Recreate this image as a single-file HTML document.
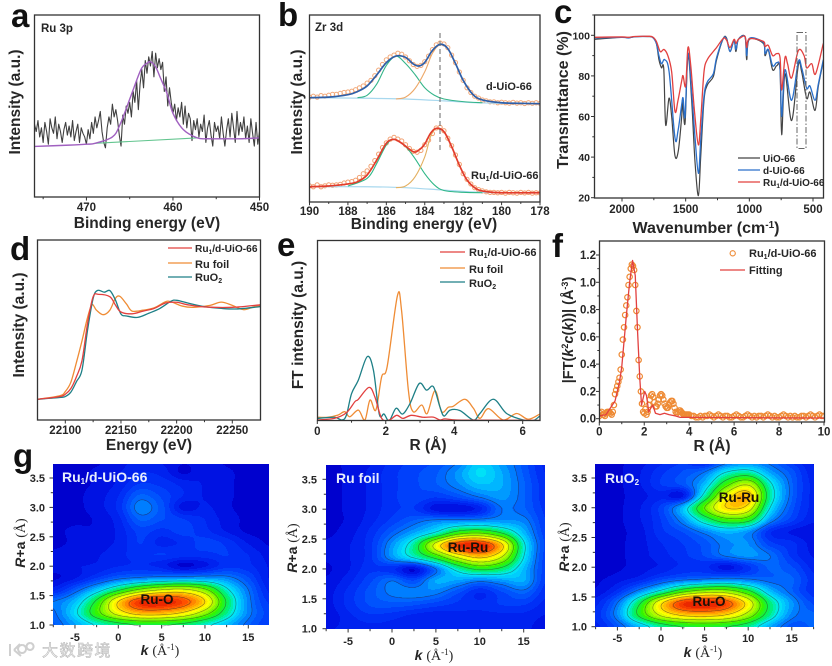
<!DOCTYPE html>
<html lang="en">
<head>
<meta charset="utf-8">
<title>XPS, FTIR, XAS and EXAFS panels</title>
<style>
html,body{margin:0;padding:0;background:#fff;width:832px;height:666px;overflow:hidden}
svg{display:block;position:absolute;left:0;top:0}
text{font-family:"Liberation Sans","Noto Sans CJK SC",sans-serif;font-weight:bold;fill:#262626}
.letter{font-size:33px;fill:#111}
.title{font-size:15.5px;text-anchor:middle}
.tick{font-size:11.5px}
.cy{font-size:10.5px}
.leg{font-size:11px}
.leg-sm{font-size:10px}
.note{font-size:11.5px}
.frame{fill:none;stroke:#333;stroke-width:1.3}
.gt{font-size:11px}
.glab{font-size:14px;fill:#e8eefc}
.peak{font-size:13.5px;fill:#1b1208;text-anchor:middle}
.serif{font-family:"Liberation Serif",serif;font-weight:normal}
.wm{font-size:16px;letter-spacing:1.5px;fill:#f4f4f4;stroke:#b9b9b9;stroke-width:.6;font-weight:normal}
</style>
</head>
<body>
<svg id="fig" width="832" height="666" viewBox="0 0 832 666" xmlns="http://www.w3.org/2000/svg">
<defs>
<clipPath id="clip-a"><rect x="34.5" y="15" width="225" height="182"/></clipPath>
<clipPath id="clip-b"><rect x="309.5" y="15" width="230.5" height="187"/></clipPath>
<clipPath id="clip-c"><rect x="594.5" y="15" width="229" height="183"/></clipPath>
<clipPath id="clip-d"><rect x="37.5" y="240" width="223" height="180"/></clipPath>
<clipPath id="clip-e"><rect x="317.5" y="240.5" width="222.5" height="180"/></clipPath>
<clipPath id="clip-f"><rect x="599.5" y="241" width="225" height="181"/></clipPath>
</defs>

<g id="panel-a">
<text class="letter" x="11" y="27">a</text>
<g id="a-marks" clip-path="url(#clip-a)"></g>
<rect class="frame" x="34.5" y="15" width="225" height="182"/>
<g id="a-axis"></g>
<text class="note" x="41" y="32">Ru 3p</text>
<text class="title" x="147" y="228">Binding energy (eV)</text>
<text class="title" transform="translate(20,102) rotate(-90)">Intensity (a.u.)</text>
</g>

<g id="panel-b">
<text class="letter" x="278" y="26">b</text>
<g id="b-marks" clip-path="url(#clip-b)"></g>
<line x1="440" y1="33" x2="440" y2="152" stroke="#666" stroke-width="1" stroke-dasharray="5 3"/>
<rect class="frame" x="309.5" y="15" width="230.5" height="187"/>
<g id="b-axis"></g>
<text class="note" x="315" y="31">Zr 3d</text>
<text class="leg" x="486" y="90">d-UiO-66</text>
<text class="leg" x="471" y="179">Ru<tspan font-size="7" dy="2">1</tspan><tspan dy="-2">/d-UiO-66</tspan></text>
<text class="title" x="424" y="229">Binding energy (eV)</text>
<text class="title" transform="translate(302,102) rotate(-90)">Intensity (a.u.)</text>
</g>

<g id="panel-c">
<text class="letter" x="554" y="23">c</text>
<g id="c-marks" clip-path="url(#clip-c)"></g>
<rect x="797" y="32.5" width="9" height="116" fill="none" stroke="#666" stroke-width="1" stroke-dasharray="6 2 1.5 2"/>
<rect class="frame" x="594.5" y="15" width="229" height="183"/>
<g id="c-axis"></g>
<g>
<line x1="738" y1="158" x2="760" y2="158" stroke="#444" stroke-width="1.3"/>
<text class="leg-sm" x="763" y="162">UiO-66</text>
<line x1="738" y1="170" x2="760" y2="170" stroke="#2a6fc9" stroke-width="1.3"/>
<text class="leg-sm" x="763" y="174">d-UiO-66</text>
<line x1="738" y1="182" x2="760" y2="182" stroke="#e2403f" stroke-width="1.3"/>
<text class="leg-sm" x="763" y="186">Ru<tspan font-size="6.5" dy="2">1</tspan><tspan dy="-2">/d-UiO-66</tspan></text>
</g>
<text class="title" x="706" y="233" style="font-size:16px">Wavenumber (cm<tspan font-size="10" dy="-5">-1</tspan><tspan dy="5">)</tspan></text>
<text class="title" transform="translate(568,100) rotate(-90)" style="font-size:16px">Transmittance (%)</text>
</g>

<g id="panel-d">
<text class="letter" x="10" y="260">d</text>
<g id="d-marks" clip-path="url(#clip-d)"></g>
<rect class="frame" x="37.5" y="240" width="223" height="180"/>
<g id="d-axis"></g>
<g>
<line x1="168" y1="248" x2="192" y2="248" stroke="#e2403f" stroke-width="1.3"/>
<text class="leg" x="195" y="252" style="font-size:10.2px">Ru<tspan font-size="6.5" dy="2">1</tspan><tspan dy="-2">/d-UiO-66</tspan></text>
<line x1="168" y1="263" x2="192" y2="263" stroke="#ef8c35" stroke-width="1.3"/>
<text class="leg" x="195" y="268">Ru foil</text>
<line x1="168" y1="277" x2="192" y2="277" stroke="#1d7f86" stroke-width="1.3"/>
<text class="leg" x="195" y="281">RuO<tspan font-size="7" dy="2">2</tspan></text>
</g>
<text class="title" x="149" y="450">Energy (eV)</text>
<text class="title" transform="translate(24,325) rotate(-90)">Intensity (a.u.)</text>
</g>

<g id="panel-e">
<text class="letter" x="277" y="256">e</text>
<g id="e-marks" clip-path="url(#clip-e)"></g>
<rect class="frame" x="317.5" y="240.5" width="222.5" height="180"/>
<g id="e-axis"></g>
<g>
<line x1="440" y1="252" x2="465" y2="252" stroke="#e2403f" stroke-width="1.3"/>
<text class="leg" x="469" y="256">Ru<tspan font-size="7" dy="2">1</tspan><tspan dy="-2">/d-UiO-66</tspan></text>
<line x1="440" y1="268" x2="465" y2="268" stroke="#ef8c35" stroke-width="1.3"/>
<text class="leg" x="469" y="273">Ru foil</text>
<line x1="440" y1="282" x2="465" y2="282" stroke="#1d7f86" stroke-width="1.3"/>
<text class="leg" x="469" y="287">RuO<tspan font-size="7" dy="2">2</tspan></text>
</g>
<text class="title" x="428" y="450">R (Å)</text>
<text class="title" transform="translate(303,325) rotate(-90)">FT intensity (a.u.)</text>
</g>

<g id="panel-f">
<text class="letter" x="552" y="257">f</text>
<g id="f-marks" clip-path="url(#clip-f)"></g>
<rect class="frame" x="599.5" y="241" width="225" height="181"/>
<g id="f-axis"></g>
<g>
<circle cx="732.7" cy="253.3" r="2.6" fill="none" stroke="#ee8a34" stroke-width="1.1"/>
<text class="leg" x="749" y="257">Ru<tspan font-size="7" dy="2">1</tspan><tspan dy="-2">/d-UiO-66</tspan></text>
<line x1="720" y1="270" x2="745" y2="270" stroke="#e2403f" stroke-width="1.3"/>
<text class="leg" x="749" y="274">Fitting</text>
</g>
<text class="title" x="712" y="451">R (Å)</text>
<text class="title" transform="translate(573,330) rotate(-90)" style="font-size:14.5px">|FT(<tspan font-style="italic">k</tspan><tspan font-size="9" dy="-5">2</tspan><tspan dy="5" font-style="italic">c</tspan>(<tspan font-style="italic">k</tspan>))| (Å<tspan font-size="9" dy="-5">-3</tspan><tspan dy="5">)</tspan></text>
</g>

<text class="letter" x="13" y="467">g</text>

<g id="panel-g1">
<g id="g1-heat"></g>
<g id="g1-axis"></g>
<text class="glab" x="62" y="482">Ru<tspan font-size="8" dy="2">1</tspan><tspan dy="-2">/d-UiO-66</tspan></text>
<text class="peak" x="157" y="604">Ru-O</text>
<text class="title" x="160" y="655" style="font-size:14px"><tspan font-style="italic">k</tspan> <tspan class="serif">(Å</tspan><tspan font-size="9" dy="-5" class="serif">-1</tspan><tspan dy="5" class="serif">)</tspan></text>
<text class="title" transform="translate(25,543) rotate(-90)" style="font-size:14px"><tspan font-style="italic">R</tspan>+a <tspan class="serif">(Å)</tspan></text>
</g>

<g id="panel-g2">
<g id="g2-heat"></g>
<g id="g2-axis"></g>
<text class="glab" x="336" y="483">Ru foil</text>
<text class="peak" x="468" y="552">Ru-Ru</text>
<text class="title" x="434" y="660" style="font-size:14px"><tspan font-style="italic">k</tspan> <tspan class="serif">(Å</tspan><tspan font-size="9" dy="-5" class="serif">-1</tspan><tspan dy="5" class="serif">)</tspan></text>
<text class="title" transform="translate(297,548) rotate(-90)" style="font-size:14px"><tspan font-style="italic">R</tspan>+a <tspan class="serif">(Å)</tspan></text>
</g>

<g id="panel-g3">
<g id="g3-heat"></g>
<g id="g3-axis"></g>
<text class="glab" x="605" y="483">RuO<tspan font-size="8" dy="2">2</tspan></text>
<text class="peak" x="739" y="502">Ru-Ru</text>
<text class="peak" x="709" y="606">Ru-O</text>
<text class="title" x="703" y="657" style="font-size:14px"><tspan font-style="italic">k</tspan> <tspan class="serif">(Å</tspan><tspan font-size="9" dy="-5" class="serif">-1</tspan><tspan dy="5" class="serif">)</tspan></text>
<text class="title" transform="translate(569,547) rotate(-90)" style="font-size:14px"><tspan font-style="italic">R</tspan>+a <tspan class="serif">(Å)</tspan></text>
</g>

<g>
<path d="M10 644v12M14 650l6-6M14 650l7 6M22 645a4 4 0 1 0 .1 0M30 643a3.5 3.5 0 1 0 .1 0" fill="none" stroke="#cfcfcf" stroke-width="2"/>
<text class="wm" x="42" y="656">大数跨境</text>
</g>
</svg>

<script>
/* ---------- panel a data ---------- */
const aNoiseStart = 476;
const aNoiseStep = 0.2;
const aNoise = [40,36,42,33,38,30,41,36,29,43,38,35,44,32,40,36,30,37,41,34,39,33,42,31,36,40,30,38,35,33,29,
37,32,41,35,44,38,42,47,36,30,27,38,44,40,51,
44,48,42,34,28,45,40,50,46,52,
44,58,52,64,48,62,70,60,
75,68,77,72,80,66,79,71,76,
70,74,58,66,50,60,52,46,
51,42,49,44,52,40,50,38,46,43,
31,42,37,43,33,40,36,45,30,38,42,34,28,41,36,39,32,44,35,28,37,43,33,46,38,30,47,34,41,36,44,32,39,30,43,35,28,41,29,36];
const aFitE = [476,472,470,469,467,466.1,464.9,463.7,463,462.6,462,461.5,460.7,460,458.8,457.2,456,454,452,450];
const aFitV = [27.8,28.5,29,29.5,33,40,55,70,73.5,74.3,71.5,66,57,46,37,32.5,32,32,32,32.5];
const aBaseE = [469,457];
const aBaseV = [29.5,32.5];
const aXTicks = [470,460,450];
const aXMinor = [475,465,455];

/* ---------- panel b data ---------- */
const bScatterStart = 190;
const bScatterStep = 0.2;
const bScatterD = [56,56.5,56,56.8,56.5,57,57.5,57.5,58,58.5,58.8,59.2,60,61,62,63.5,65,67.5,70.5,73.5,76,77.5,78.5,79.5,79,77.5,75.5,73.5,72.5,73,75,78,81.5,84,85,84.5,82.5,78.5,74.5,69.5,65,61,58.5,56.5,55.5,54.5,54,53.5,53.5,53,53.3,53,52.8,53.2,52.8,53,52.6,53,52.7,53,52.7];
const bScatterRu = [8.5,8,9,8,8.5,9,8.8,9,9.3,10,10.5,10.8,11.5,13,15,16.5,19,22,25.5,29,31.5,33.5,34.5,33.5,32.5,30.5,28.5,27,26.5,27.5,30.5,33,36.5,39.5,39.8,38,34,30,25,20,15,12,9.5,7.5,6.5,5.8,5.3,5,5,4.8,5,4.6,5,4.8,4.6,5,4.7,5,4.6,4.8,4.7];
const bFitDE = [190,189,188,187.5,187,186.5,186,185.5,185,184.6,184.3,184,183.6,183.2,182.8,182.4,182,181.5,181,180,179,178];
const bFitDV = [55.7,56,57.3,59,62,67.9,74.5,78,77.3,73.8,72.7,74.6,81,84.3,82,74,65,57.5,54.5,53,52.7,52.5];
const bGreenDE = [187.5,187,186.5,186,185.5,185,184.5,184,183.5,183,182,181];
const bGreenDV = [55.7,57,63,73,78,74,68,61,57,55,53.6,53];
const bOrangeDE = [185.5,185,184.5,184,183.6,183.2,182.8,182.4,182,181.5,181,180];
const bOrangeDV = [55,56,60.7,69.6,79.5,84.3,82,74,65,57.5,54.5,53];
const bBaseDE = [190,187,185,183,181,178];
const bBaseDV = [55.7,55.4,55,54,52.9,52.5];
const bFitRuE = [190,189,188,187.5,187,186.5,186,185.6,185.2,184.6,184.3,184,183.7,183.4,183,182.6,182.2,181.8,181.3,180.8,180,178];
const bFitRuV = [8,8.4,9.5,10.7,14.3,22.3,31.3,33.4,31.3,26.8,27.7,30.9,36.6,39.3,37.5,29.5,19.6,11.6,6.8,5.4,4.8,4.8];
const bGreenRuE = [188,187,186.5,186,185.6,185,184.5,184,183.5,183,182,181];
const bGreenRuV = [8.4,12.5,20.5,30.4,33.4,29.5,23,15,9,6,5,4.8];
const bOrangeRuE = [185.5,185,184.5,184,183.7,183.4,183,182.6,182.2,181.8,181.3,180.8];
const bOrangeRuV = [7.5,8.4,13.4,24,34.8,39.3,37.5,29.5,19.6,11.6,6.8,5.4];
const bBaseRuE = [190,187,185,183,181,178];
const bBaseRuV = [8,8,7.5,6.2,5,4.8];
const bXTicks = [190,188,186,184,182,180,178];
const bXMinor = [189,187,185,183,181,179];

/* ---------- panel c data ---------- */
const cBlackW = [2217,2000,1950,1900,1800,1760,1730,1710,1690,1672,1657,1631,1610,1584,1558,1531,1524,1505,1482,1453,1427,1400,1382,1356,1330,1283,1257,1204,1178,1152,1120,1105,1086,1034,1021,1000,890,877,851,817,785,759,746,720,668,615,589,550,524,484,458,419];
const cBlackV = [98,99,98.7,99.3,99.4,99,96,88,84,83.5,55.8,69,60,40.7,43,60,68,56.6,90,68,38,21,40,68,75.5,79.6,88,98.5,98.5,92,97.5,92,98,99.3,88,98,96,90,92.7,83,85,83,51,81,58,85.4,82,69,72,63,75,87];
const cBlueW = [2217,2000,1950,1900,1800,1760,1730,1710,1690,1665,1630,1584,1560,1531,1520,1505,1482,1453,1427,1400,1382,1356,1330,1283,1257,1204,1178,1152,1120,1105,1086,1034,1021,1000,890,877,851,817,785,759,746,720,668,615,589,550,524,484,458,419];
const cBlueV = [98.7,99,98.7,99.3,99.4,99,96,90,86,88,82,49.5,53,66,69,60,91,72,50,32,48,70,77,81,89,98.5,98,92,97.5,93,98,99.3,90,98.5,96.5,91,93,85,86.5,84,60,83,68,87,84,74,75,68,76,88];
const cRedW = [2217,2000,1950,1900,1800,1760,1730,1700,1670,1640,1610,1584,1560,1530,1520,1500,1482,1460,1430,1400,1380,1356,1330,1283,1257,1204,1178,1152,1120,1105,1086,1034,1021,1000,890,877,851,817,785,759,746,720,700,668,615,570,550,510,480,419];
const cRedV = [99,99.2,99,99.4,99.5,99.2,97,92,93,90,82,62.5,68,78,80,75,94,85,62,46,60,82,88,92,94,98.5,97.5,94,98,96,98,99.5,94,98.3,97,94.5,95,90,91,89,73,89,86,79,92.5,90,84,86,81,96];
const cXTicks = [2000,1500,1000,500];
const cXMinor = [1750,1250,750];
const cYTicks = [20,40,60,80,100];
const cYMinor = [30,50,70,90,110];

/* ---------- panel d data ---------- */
const dRuE = [22075,22095,22100,22105,22110,22115,22120,22125,22130,22140,22145,22150,22160,22170,22180,22190,22200,22210,22225,22250,22275];
const dRuV = [11.5,13,14.3,17.5,24,33,53.7,68.5,69.8,68.5,63.9,60,59,60.5,62,65,65.4,64,62.8,62.6,64];
const dFoilE = [22075,22095,22100,22105,22110,22115,22120,22124,22128,22134,22140,22145,22149,22155,22160,22170,22180,22190,22195,22205,22215,22230,22240,22250,22260,22270,22275];
const dFoilV = [11.5,13.5,15.8,21,32,44,57,64,61,58.5,61,67.6,68.7,64.4,60.5,61,62.4,65.7,65.7,63.3,62.6,63.7,65.5,63.7,61.3,63,63.3];
const dOxE = [22075,22095,22100,22105,22110,22115,22120,22125,22129,22135,22140,22145,22150,22155,22165,22175,22185,22195,22200,22210,22225,22240,22255,22275];
const dOxV = [11.5,12.5,13,15.5,21.3,27.8,50,67.6,72,71,71.9,66.7,58.9,57.8,57,59.3,62,66,66.5,65,63,62,61.7,63];
const dXTicks = [22100,22150,22200,22250];
const dXMinor = [22125,22175,22225];

/* ---------- panel e data ---------- */
const eFoilR = [0,0.3,0.6,0.8,0.95,1.2,1.39,1.54,1.71,1.88,2.04,2.34,2.46,2.66,2.8,3.05,3.21,3.44,3.63,3.83,3.97,4.31,4.56,4.75,5.0,5.43,5.82,6.16,6.5];
const eFoilV = [1.9,1.9,3.1,5,2.2,5.9,0.4,11.5,5.9,24.4,30,69.4,61.5,17,5,8.7,4,16.7,5,7.5,8,11.9,6.9,1.3,6.7,0.4,4,0.8,3.7];
const eOxR = [0,0.5,0.72,0.85,1.0,1.2,1.46,1.64,1.81,1.95,2.1,2.3,2.49,2.71,2.98,3.19,3.39,3.58,3.7,3.88,4.17,4.56,4.75,5.14,5.53,6.02,6.3,6.5];
const eOxV = [1.3,1.9,0.4,3.1,15,22.6,35.6,28,3.7,3.7,0,6.9,3.7,9.6,20.7,17,18.9,7.8,2.6,5.9,5.6,0.4,4,11.9,4,0.4,0,2.6];
const eRuR = [0,0.5,0.85,1.1,1.2,1.51,1.68,1.88,2.1,2.32,2.5,2.75,3.09,3.39,3.58,3.73,4.07,5,6.5];
const eRuV = [0.4,1.3,4.4,10.6,11.9,18.5,13.3,1.3,0.4,3,1.3,3,1.9,2,0.4,1,0.4,0.3,0.2];
const eXTicks = [0,2,4,6];
const eXMinor = [1,3,5];

/* ---------- panel f data ---------- */
const fCircStart = 0;
const fCircStep = 0.05;
const fCircNear = [.02,.04,.05,.03,.03,.02,.04,.05,.05,.05,.04,.03,.05,.10,.18,.21,.24,.27,.30,.36,.47,.58,.67,.76,.83,.89,.98,1.04,1.10,1.13,1.12,1.09,.98,.79,.67,.43,.31,.20,.11,.05,.04,.07,.03,.05,.10,.14,.17,.18,.16,.12,.09,.09,.11,.14,.17,.18,.17,.14,.11,.09,.08,.08,.10,.12,.13,.13,.11,.08,.05,.04,.05,.06,.06,.05,.04,.03,.03,.03,.03,.03,.03];
const fFarStart = 4.1;
const fFarStep = 0.1;
const fCircFar = [.02,.02,.01,.01,.02,.01,.02,.02,.03,.02,.01,.02,.03,.02,.01,.02,.02,.01,.01,.02,.03,.02,.01,.01,.02,.03,.02,.01,.02,.01,.02,.02,.01,.02,.03,.02,.01,.02,.01,.01,.02,.03,.02,.01,.02,.01,.02,.01,.01,.02,.02,.01,.02,.03,.02,.01,.02,.03,.02,.02];
const fFitR = [0,0.3,0.5,0.7,0.9,1,1.2,1.35,1.48,1.6,1.7,1.8,1.88,1.95,2.02,2.1,2.2,2.3,2.38,2.5,2.7,2.9,3.1,3.4,3.6,4,6,8,10];
const fFitV = [.02,.03,.08,.13,.27,.38,.75,1.0,1.16,1.05,.65,.3,.1,.15,.2,.17,.05,.08,.1,.04,.03,.04,.03,.02,.01,.01,.008,.006,.005];
const fXTicks = [0,2,4,6,8,10];
const fXMinor = [1,3,5,7,9];
const fYTicks = [0,0.2,0.4,0.6,0.8,1.0,1.2];
const fYMinor = [0.1,0.3,0.5,0.7,0.9,1.1];

/* ---------- panel g data ---------- */
const gKCenters = [-7.5,-5,-2.5,0,2.5,5,7.5,10,12.5,15,17.5];
const gRCenters = [1.0,1.2,1.4,1.6,1.8,2.0,2.2,2.4,2.6,2.8,3.0,3.2,3.4,3.6,3.8];
const gXTicks = [-5,0,5,10,15];
const gXMinor = [-7.5,-2.5,2.5,7.5,12.5,17.5];
const gYTicks = [1.0,1.5,2.0,2.5,3.0,3.5];
const gYMinor = [1.25,1.75,2.25,2.75,3.25];
const gContourLevels = [0.22,0.36,0.48,0.58,0.68,0.78,0.9];
const g1Grid = [
[.19,.27,.37,.44,.48,.48,.45,.38,.30,.20,.14],
[.21,.34,.54,.72,.82,.82,.76,.62,.42,.24,.15],
[.22,.30,.50,.78,.97,1.0,.94,.78,.47,.24,.13],
[.10,.19,.31,.46,.60,.68,.70,.60,.38,.22,.10],
[.05,.08,.14,.20,.23,.25,.26,.26,.24,.17,.08],
[.07,.08,.09,.11,.12,.10,.05,.08,.13,.12,.08],
[.06,.07,.08,.10,.13,.14,.13,.13,.14,.11,.07],
[.05,.06,.07,.09,.14,.10,.12,.15,.13,.08,.05],
[.05,.06,.06,.09,.15,.13,.15,.12,.08,.05,.05],
[.05,.05,.06,.10,.20,.17,.14,.11,.07,.05,.05],
[.05,.05,.07,.12,.24,.18,.07,.09,.06,.05,.05],
[.05,.05,.07,.11,.20,.16,.11,.08,.06,.05,.05],
[.05,.05,.06,.09,.14,.13,.10,.08,.06,.05,.05],
[.05,.05,.06,.08,.11,.10,.05,.08,.06,.05,.05],
[.05,.05,.05,.07,.09,.08,.06,.07,.05,.05,.05]];
const g2Grid = [
[.08,.09,.10,.10,.11,.11,.11,.11,.10,.09,.07],
[.06,.10,.13,.12,.10,.09,.10,.10,.10,.10,.08],
[.07,.12,.17,.18,.17,.15,.13,.12,.14,.14,.10],
[.07,.12,.18,.23,.24,.23,.17,.11,.16,.20,.12],
[.06,.10,.16,.22,.17,.28,.27,.23,.26,.28,.14],
[.05,.08,.13,.12,.06,.22,.40,.50,.45,.30,.15],
[.06,.08,.13,.26,.38,.52,.70,.80,.68,.36,.15],
[.06,.08,.13,.26,.42,.72,.96,1.0,.80,.38,.16],
[.05,.07,.12,.20,.28,.38,.54,.58,.48,.30,.15],
[.05,.06,.10,.15,.20,.24,.25,.26,.26,.24,.14],
[.05,.06,.09,.13,.14,.07,.06,.10,.22,.20,.13],
[.05,.06,.09,.13,.16,.14,.17,.22,.26,.20,.12],
[.05,.06,.09,.13,.16,.19,.24,.30,.28,.20,.12],
[.05,.06,.09,.13,.16,.19,.26,.34,.28,.19,.11],
[.05,.06,.08,.12,.15,.17,.22,.32,.26,.18,.10]];
const g3Grid = [
[.10,.18,.30,.42,.48,.50,.48,.42,.28,.18,.20],
[.12,.25,.50,.70,.80,.82,.78,.64,.42,.24,.20],
[.10,.22,.46,.76,.96,1.0,.94,.74,.44,.26,.16],
[.06,.12,.24,.38,.54,.62,.62,.50,.30,.20,.12],
[.05,.07,.10,.16,.20,.22,.24,.22,.20,.20,.12],
[.04,.05,.07,.09,.12,.12,.07,.13,.20,.17,.10],
[.04,.05,.07,.10,.13,.17,.23,.26,.22,.13,.08],
[.04,.05,.07,.11,.14,.18,.24,.25,.15,.12,.07],
[.04,.05,.07,.13,.17,.24,.30,.26,.12,.08,.06],
[.04,.05,.08,.14,.25,.42,.55,.52,.26,.15,.09],
[.04,.05,.08,.15,.30,.58,.78,.74,.36,.18,.10],
[.04,.05,.07,.10,.08,.40,.72,.82,.42,.20,.10],
[.04,.05,.08,.14,.18,.30,.54,.66,.38,.20,.10],
[.04,.05,.08,.13,.17,.22,.36,.40,.27,.18,.09],
[.04,.05,.07,.10,.13,.08,.18,.22,.20,.13,.08]];

/* ---------- helpers ---------- */
const NS = 'http://www.w3.org/2000/svg';
function linear(d0, d1, r0, r1) {
  const f = function (v) { return r0 + (v - d0) * (r1 - r0) / (d1 - d0); };
  f.invert = function (p) { return d0 + (p - r0) * (d1 - d0) / (r1 - r0); };
  return f;
}
function svgEl(tag) { return document.createElementNS(NS, tag); }
function toPoints(xs, ys, sx, sy) {
  return xs.map(function (x, i) { return [sx(x), sy(ys[i])]; });
}
function straightPath(p) {
  return p.map(function (q, i) { return (i ? 'L' : 'M') + q[0].toFixed(2) + ' ' + q[1].toFixed(2); }).join('');
}
function smoothPath(p) {
  let d = 'M' + p[0][0].toFixed(2) + ' ' + p[0][1].toFixed(2);
  for (let i = 0; i < p.length - 1; i++) {
    const a = p[Math.max(i - 1, 0)], b = p[i], c = p[i + 1], e = p[Math.min(i + 2, p.length - 1)];
    d += 'C' + (b[0] + (c[0] - a[0]) / 6).toFixed(2) + ' ' + (b[1] + (c[1] - a[1]) / 6).toFixed(2) + ' ' +
      (c[0] - (e[0] - b[0]) / 6).toFixed(2) + ' ' + (c[1] - (e[1] - b[1]) / 6).toFixed(2) + ' ' +
      c[0].toFixed(2) + ' ' + c[1].toFixed(2);
  }
  return d;
}
function drawLine(group, xs, ys, sx, sy, color, width, curved, name) {
  const el = svgEl('path');
  const pts = toPoints(xs, ys, sx, sy);
  el.setAttribute('d', curved ? smoothPath(pts) : straightPath(pts));
  el.setAttribute('fill', 'none');
  el.setAttribute('stroke', color);
  el.setAttribute('stroke-width', width);
  el.setAttribute('stroke-linejoin', 'round');
  
  
  group.appendChild(el);
}
function drawCircles(group, xs, ys, sx, sy, color, r, width, name) {
  xs.forEach(function (x, i) {
    const c = svgEl('circle');
    c.setAttribute('cx', sx(x).toFixed(2));
    c.setAttribute('cy', sy(ys[i]).toFixed(2));
    c.setAttribute('r', r);
    c.setAttribute('fill', 'none');
    c.setAttribute('stroke', color);
    c.setAttribute('stroke-width', width);
    
    
    group.appendChild(c);
  });
}
function drawTicks(group, prefix, axis, scale, majors, minors, crossPos, labelPos, fmt, fontClass, tickColor) {
  const mk = function (v, len, major) {
    const t = svgEl('line');
    const p = scale(v);
    if (axis === 'x') {
      t.setAttribute('x1', p); t.setAttribute('x2', p);
      t.setAttribute('y1', crossPos); t.setAttribute('y2', crossPos + len);
    } else {
      t.setAttribute('y1', p); t.setAttribute('y2', p);
      t.setAttribute('x1', crossPos); t.setAttribute('x2', crossPos - len);
    }
    t.setAttribute('stroke', tickColor);
    t.setAttribute('stroke-width', '1');
    
    
    group.appendChild(t);
  };
  minors.forEach(function (v) { mk(v, 2.2, false); });
  majors.forEach(function (v) {
    mk(v, 3.5, true);
    const lab = svgEl('text');
    lab.textContent = fmt(v);
    lab.setAttribute('class', fontClass);
    if (axis === 'x') {
      lab.setAttribute('x', scale(v));
      lab.setAttribute('y', labelPos);
      lab.setAttribute('text-anchor', 'middle');
    } else {
      lab.setAttribute('x', labelPos);
      lab.setAttribute('y', scale(v) + 4);
      lab.setAttribute('text-anchor', 'end');
    }
    
    
    group.appendChild(lab);
  });
}
const plain = function (v) { return String(v); };
const oneDec = function (v) { return v.toFixed(1); };

/* ---------- axis scales ---------- */
const aX = linear(476, 450, 34.5, 259.5), aY = linear(0, 100, 197, 15);
const bX = linear(190, 178, 309.5, 540), bY = linear(0, 100, 201.7, 15);
const cX = linear(2000, 500, 622, 813), cY = linear(20, 100, 197.7, 35.3);
const dX = linear(22100, 22250, 65.3, 232.3), dY = linear(0, 100, 420, 240);
const eX = linear(0, 6, 317.3, 522.7), eY = linear(0, 100, 420.7, 240.7);
const fX = linear(0, 10, 599.3, 824), fY = linear(0, 1.2, 418.7, 255);

/* ---------- panel a ---------- */
const aMarks = document.getElementById('a-marks');
const aNoiseE = aNoise.map(function (_, i) { return aNoiseStart - i * aNoiseStep; });
drawLine(aMarks, aNoiseE, aNoise, aX, aY, '#404040', 1.1, false, 'a-raw-spectrum');
drawLine(aMarks, aBaseE, aBaseV, aX, aY, '#63c58f', 1.1, false, 'a-background-line');
drawLine(aMarks, aFitE, aFitV, aX, aY, '#a060c0', 1.4, true, 'a-fit-curve');
drawTicks(document.getElementById('a-axis'), 'a', 'x', aX, aXTicks, aXMinor, 197, 211, plain, 'tick', '#333');

/* ---------- panel b ---------- */
const bMarks = document.getElementById('b-marks');
const bScatterE = bScatterD.map(function (_, i) { return bScatterStart - i * bScatterStep; });
drawCircles(bMarks, bScatterE, bScatterD, bX, bY, '#f2a878', 2.1, 1, 'b-d-uio-66-data-point');
drawCircles(bMarks, bScatterE, bScatterRu, bX, bY, '#f2a070', 2.1, 1, 'b-ru1-data-point');
drawLine(bMarks, bBaseDE, bBaseDV, bX, bY, '#a8d8ee', 1.2, true, 'b-d-uio-66-background');
drawLine(bMarks, bGreenDE, bGreenDV, bX, bY, '#35b58a', 1.1, true, 'b-d-uio-66-component-high');
drawLine(bMarks, bOrangeDE, bOrangeDV, bX, bY, '#eda868', 1.1, true, 'b-d-uio-66-component-low');
drawLine(bMarks, bFitDE, bFitDV, bX, bY, '#2f5fa8', 1.7, true, 'b-d-uio-66-fit');
drawLine(bMarks, bBaseRuE, bBaseRuV, bX, bY, '#a8d8ee', 1.2, true, 'b-ru1-background');
drawLine(bMarks, bGreenRuE, bGreenRuV, bX, bY, '#2fb787', 1.1, true, 'b-ru1-component-high');
drawLine(bMarks, bOrangeRuE, bOrangeRuV, bX, bY, '#e4b060', 1.1, true, 'b-ru1-component-low');
drawLine(bMarks, bFitRuE, bFitRuV, bX, bY, '#e23c2c', 1.7, true, 'b-ru1-fit');
drawTicks(document.getElementById('b-axis'), 'b', 'x', bX, bXTicks, bXMinor, 201.7, 215, plain, 'tick', '#333');

/* ---------- panel c ---------- */
const cMarks = document.getElementById('c-marks');
drawLine(cMarks, cBlackW, cBlackV, cX, cY, '#444', 1.2, true, 'c-uio-66-curve');
drawLine(cMarks, cBlueW, cBlueV, cX, cY, '#2a6fc9', 1.3, true, 'c-d-uio-66-curve');
drawLine(cMarks, cRedW, cRedV, cX, cY, '#e2403f', 1.3, true, 'c-ru1-d-uio-66-curve');
const cAxis = document.getElementById('c-axis');
drawTicks(cAxis, 'c', 'x', cX, cXTicks, cXMinor, 198, 213, plain, 'tick', '#333');
drawTicks(cAxis, 'c', 'y', cY, cYTicks, cYMinor, 594.5, 590, plain, 'cy', '#333');

/* ---------- panel d ---------- */
const dMarks = document.getElementById('d-marks');
drawLine(dMarks, dFoilE, dFoilV, dX, dY, '#ef8c35', 1.3, true, 'd-ru-foil-curve');
drawLine(dMarks, dOxE, dOxV, dX, dY, '#1d7f86', 1.3, true, 'd-ruo2-curve');
drawLine(dMarks, dRuE, dRuV, dX, dY, '#e2403f', 1.3, true, 'd-ru1-d-uio-66-curve');
drawTicks(document.getElementById('d-axis'), 'd', 'x', dX, dXTicks, dXMinor, 420, 434, plain, 'tick', '#333');

/* ---------- panel e ---------- */
const eMarks = document.getElementById('e-marks');
drawLine(eMarks, eFoilR, eFoilV, eX, eY, '#ef8c35', 1.3, true, 'e-ru-foil-curve');
drawLine(eMarks, eOxR, eOxV, eX, eY, '#1d7f86', 1.3, true, 'e-ruo2-curve');
drawLine(eMarks, eRuR, eRuV, eX, eY, '#e2403f', 1.3, true, 'e-ru1-d-uio-66-curve');
drawTicks(document.getElementById('e-axis'), 'e', 'x', eX, eXTicks, eXMinor, 420.5, 435, plain, 'tick', '#333');

/* ---------- panel f ---------- */
const fMarks = document.getElementById('f-marks');
const fNearR = fCircNear.map(function (_, i) { return fCircStart + i * fCircStep; });
const fFarR = fCircFar.map(function (_, i) { return fFarStart + i * fFarStep; });
drawCircles(fMarks, fNearR, fCircNear, fX, fY, '#ee8a34', 2.7, 1.2, 'f-data-point');
drawCircles(fMarks, fFarR, fCircFar, fX, fY, '#ee8a34', 2.7, 1.2, 'f-data-point');
drawLine(fMarks, fFitR, fFitV, fX, fY, '#e2403f', 1.3, false, 'f-fitting-curve');
const fAxis = document.getElementById('f-axis');
drawTicks(fAxis, 'f', 'x', fX, fXTicks, fXMinor, 422, 435.7, plain, 'tick', '#333');
drawTicks(fAxis, 'f', 'y', fY, fYTicks, fYMinor, 599.5, 596, oneDec, 'tick', '#333');

/* ---------- panel g heatmaps ---------- */
function crWeights(t) {
  return [(-t * t * t + 2 * t * t - t) / 2, (3 * t * t * t - 5 * t * t + 2) / 2, (-3 * t * t * t + 4 * t * t + t) / 2, (t * t * t - t * t) / 2];
}
function sampleGrid(grid, k, r) {
  const kStep = gKCenters[1] - gKCenters[0], rStep = gRCenters[1] - gRCenters[0];
  const u = (k - gKCenters[0]) / kStep, v = (r - gRCenters[0]) / rStep;
  const iu = Math.max(0, Math.min(gKCenters.length - 2, Math.floor(u)));
  const iv = Math.max(0, Math.min(gRCenters.length - 2, Math.floor(v)));
  const wu = crWeights(u - iu), wv = crWeights(v - iv);
  let s = 0;
  for (let a = 0; a < 4; a++) {
    const row = grid[Math.max(0, Math.min(gRCenters.length - 1, iv + a - 1))];
    for (let b = 0; b < 4; b++) {
      s += wv[a] * wu[b] * row[Math.max(0, Math.min(gKCenters.length - 1, iu + b - 1))];
    }
  }
  return Math.max(0, Math.min(1, s));
}
const colorStops = [[0,0,0,190],[.04,0,0,205],[.08,0,25,235],[.14,0,55,250],[.22,0,110,255],[.30,0,190,255],[.36,0,235,245],[.44,0,240,110],[.54,50,245,0],[.65,170,250,0],[.74,255,255,0],[.84,255,170,0],[.93,255,80,0],[1,230,30,0]];
function heatColor(v) {
  for (let i = 1; i < colorStops.length; i++) {
    if (v <= colorStops[i][0]) {
      const a = colorStops[i - 1], b = colorStops[i], t = (v - a[0]) / (b[0] - a[0]);
      return 'rgb(' + Math.round(a[1] + t * (b[1] - a[1])) + ',' + Math.round(a[2] + t * (b[2] - a[2])) + ',' + Math.round(a[3] + t * (b[3] - a[3])) + ')';
    }
  }
  return 'rgb(230,30,0)';
}
function drawHeatmap(prefix, grid, box, kScale, rScale, xTickY, yTickX) {
  const host = document.getElementById(prefix + '-heat');
  const N = 36;
  const runs = {};
  for (let y = box.y0; y < box.y1; y++) {
    const r = rScale.invert(y + 0.5);
    let start = box.x0, cur = -1;
    for (let x = box.x0; x <= box.x1; x++) {
      const lvl = x < box.x1 ? Math.min(N - 1, Math.floor(sampleGrid(grid, kScale.invert(x + 0.5), r) * N)) : -2;
      if (lvl !== cur) {
        if (cur >= 0) {
          runs[cur] = (runs[cur] || '') + 'M' + start + ' ' + y + 'h' + (x - start) + 'v1h' + (start - x) + 'z';
        }
        start = x;
        cur = lvl;
      }
    }
  }
  Object.keys(runs).forEach(function (lvl) {
    const cell = svgEl('path');
    cell.setAttribute('d', runs[lvl]);
    cell.setAttribute('fill', heatColor((+lvl + 0.5) / N));
    cell.setAttribute('shape-rendering', 'crispEdges');
    
    
    host.appendChild(cell);
  });
  const step = 2;
  const cols = Math.ceil((box.x1 - box.x0) / step) + 1, rows = Math.ceil((box.y1 - box.y0) / step) + 1;
  const field = [];
  for (let j = 0; j < rows; j++) {
    const line = [];
    const py = Math.min(box.y1, box.y0 + j * step);
    for (let i = 0; i < cols; i++) {
      const px = Math.min(box.x1, box.x0 + i * step);
      line.push(sampleGrid(grid, kScale.invert(px), rScale.invert(py)));
    }
    field.push(line);
  }
  gContourLevels.forEach(function (level) {
    let d = '';
    const cross = function (a, b) { return (level - a) / (b - a); };
    for (let j = 0; j < rows - 1; j++) {
      for (let i = 0; i < cols - 1; i++) {
        const a = field[j][i], b = field[j][i + 1], c = field[j + 1][i + 1], e = field[j + 1][i];
        const idx = (a > level ? 8 : 0) | (b > level ? 4 : 0) | (c > level ? 2 : 0) | (e > level ? 1 : 0);
        if (idx === 0 || idx === 15) continue;
        const px = box.x0 + i * step, py = box.y0 + j * step;
        const T = [px + step * cross(a, b), py], R = [px + step, py + step * cross(b, c)];
        const B = [px + step * cross(e, c), py + step], L = [px, py + step * cross(a, e)];
        const seg = function (p, q) { d += 'M' + p[0].toFixed(1) + ' ' + p[1].toFixed(1) + 'L' + q[0].toFixed(1) + ' ' + q[1].toFixed(1); };
        if (idx === 1 || idx === 14) seg(L, B);
        else if (idx === 2 || idx === 13) seg(B, R);
        else if (idx === 3 || idx === 12) seg(L, R);
        else if (idx === 4 || idx === 11) seg(T, R);
        else if (idx === 6 || idx === 9) seg(T, B);
        else if (idx === 7 || idx === 8) seg(L, T);
        else { seg(L, T); seg(B, R); }
      }
    }
    const contour = svgEl('path');
    contour.setAttribute('d', d);
    contour.setAttribute('fill', 'none');
    contour.setAttribute('stroke', '#2a2a2a');
    contour.setAttribute('stroke-opacity', '0.55');
    contour.setAttribute('stroke-width', '0.6');
    
    
    host.appendChild(contour);
  });
  const axisHost = document.getElementById(prefix + '-axis');
  drawTicks(axisHost, prefix, 'x', kScale, gXTicks, gXMinor.filter(function (v) { return kScale(v) <= box.x1; }), box.y1, xTickY, plain, 'gt tick', '#333');
  drawTicks(axisHost, prefix, 'y', rScale, gYTicks, gYMinor, box.x0, yTickX, oneDec, 'gt tick', '#333');
}
drawHeatmap('g1', g1Grid, {x0: 53, x1: 269, y0: 464, y1: 625}, linear(0, 15, 118.3, 248.3), linear(1, 3.5, 625, 478), 641, 45);
drawHeatmap('g2', g2Grid, {x0: 326, x1: 545, y0: 465, y1: 629}, linear(0, 15, 392, 523.7), linear(1, 3.5, 628.7, 479.3), 645, 317);
drawHeatmap('g3', g3Grid, {x0: 595, x1: 814, y0: 464, y1: 627}, linear(0, 15, 661, 791.8), linear(1, 3.5, 626.7, 478), 642, 587);
</script>
</body>
</html>
